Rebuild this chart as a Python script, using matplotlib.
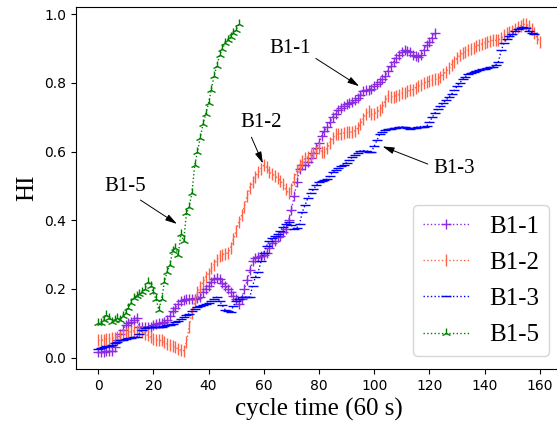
import numpy as np
import matplotlib
matplotlib.use('Agg')
import matplotlib.pyplot as plt

# --- Данные ---
b11 = [0.015, 0.015, 0.015, 0.018, 0.018, 0.02, 0.03, 0.05, 0.07, 0.08,
       0.095, 0.10, 0.105, 0.11, 0.115, 0.09, 0.088, 0.088, 0.09, 0.09,
       0.095, 0.098, 0.10, 0.10, 0.105, 0.11, 0.12, 0.135, 0.145, 0.155,
       0.165, 0.168, 0.17, 0.17, 0.172, 0.172, 0.175, 0.178, 0.19, 0.20,
       0.21, 0.22, 0.228, 0.232, 0.228, 0.218, 0.21, 0.20, 0.19, 0.18,
       0.17, 0.155, 0.17, 0.20, 0.225, 0.255, 0.28, 0.29, 0.292, 0.295,
       0.30, 0.305, 0.32, 0.335, 0.34, 0.35, 0.355, 0.365, 0.375, 0.40,
       0.43, 0.47, 0.51, 0.55, 0.56, 0.562, 0.57, 0.58, 0.595, 0.61,
       0.625, 0.645, 0.66, 0.672, 0.685, 0.70, 0.71, 0.72, 0.728, 0.733,
       0.738, 0.742, 0.745, 0.75, 0.755, 0.765, 0.775, 0.778, 0.78, 0.783,
       0.79, 0.797, 0.803, 0.81, 0.82, 0.835, 0.848, 0.86, 0.872, 0.88,
       0.89, 0.895, 0.893, 0.89, 0.882, 0.878, 0.875, 0.88, 0.895, 0.91,
       0.92, 0.932, 0.945]

b12 = [0.05, 0.05, 0.052, 0.055, 0.055, 0.057, 0.058, 0.06, 0.06, 0.065,
       0.07, 0.073, 0.076, 0.078, 0.079, 0.078, 0.075, 0.07, 0.065, 0.06,
       0.055, 0.052, 0.05, 0.05, 0.045, 0.04, 0.037, 0.033, 0.03, 0.025,
       0.022, 0.02, 0.045, 0.09, 0.13, 0.165, 0.19, 0.205, 0.22, 0.235,
       0.245, 0.26, 0.27, 0.285, 0.295, 0.30, 0.302, 0.305, 0.32, 0.345,
       0.37, 0.395, 0.415, 0.44, 0.47, 0.495, 0.51, 0.525, 0.54, 0.55,
       0.56, 0.555, 0.54, 0.535, 0.53, 0.522, 0.515, 0.505, 0.49, 0.478,
       0.49, 0.52, 0.545, 0.56, 0.572, 0.58, 0.585, 0.59, 0.595, 0.60,
       0.61, 0.60, 0.598, 0.61, 0.625, 0.64, 0.65, 0.652, 0.652, 0.654,
       0.656, 0.656, 0.657, 0.66, 0.668, 0.68, 0.695, 0.71, 0.718, 0.708,
       0.71, 0.715, 0.722, 0.73, 0.748, 0.762, 0.76, 0.76, 0.763, 0.766,
       0.77, 0.772, 0.775, 0.778, 0.78, 0.786, 0.79, 0.795, 0.80, 0.802,
       0.805, 0.808, 0.81, 0.812, 0.818, 0.825, 0.833, 0.842, 0.852, 0.862,
       0.872, 0.88, 0.886, 0.89, 0.895, 0.90, 0.903, 0.907, 0.91, 0.913,
       0.916, 0.919, 0.922, 0.924, 0.924, 0.925, 0.93, 0.938, 0.945, 0.948,
       0.952, 0.957, 0.962, 0.966, 0.97, 0.971, 0.966, 0.958, 0.945, 0.932,
       0.918]

b13 = [0.025, 0.027, 0.03, 0.033, 0.035, 0.038, 0.042, 0.046, 0.05, 0.052,
       0.054, 0.056, 0.058, 0.059, 0.06, 0.07, 0.08, 0.087, 0.088, 0.088,
       0.088, 0.088, 0.089, 0.09, 0.092, 0.094, 0.096, 0.098, 0.103, 0.108,
       0.113, 0.118, 0.123, 0.128, 0.135, 0.143, 0.148, 0.15, 0.152, 0.156,
       0.16, 0.165, 0.17, 0.176, 0.165, 0.152, 0.14, 0.135, 0.133, 0.15,
       0.165, 0.172, 0.176, 0.176, 0.176, 0.177, 0.21, 0.235, 0.25, 0.28,
       0.305, 0.325, 0.34, 0.348, 0.354, 0.36, 0.37, 0.38, 0.388, 0.395,
       0.385, 0.376, 0.378, 0.39, 0.425, 0.445, 0.465, 0.478, 0.49, 0.502,
       0.51, 0.514, 0.516, 0.52, 0.53, 0.54, 0.547, 0.553, 0.558, 0.562,
       0.568, 0.575, 0.583, 0.59, 0.597, 0.602, 0.603, 0.602, 0.60, 0.60,
       0.615, 0.633, 0.65, 0.658, 0.662, 0.665, 0.667, 0.668, 0.67, 0.671,
       0.672, 0.671, 0.669, 0.667, 0.668, 0.67, 0.672, 0.673, 0.672, 0.674,
       0.685, 0.70, 0.712, 0.724, 0.733, 0.742, 0.75, 0.758, 0.767, 0.778,
       0.79, 0.80, 0.81, 0.818, 0.826, 0.83, 0.833, 0.835, 0.837, 0.839,
       0.841, 0.843, 0.845, 0.847, 0.852, 0.862, 0.895, 0.915, 0.928, 0.936,
       0.943, 0.95, 0.956, 0.96, 0.963, 0.96, 0.952, 0.946, 0.942]

b15 = [0.10, 0.10, 0.11, 0.125, 0.115, 0.105, 0.11, 0.115, 0.11, 0.12,
       0.13, 0.145, 0.16, 0.175, 0.18, 0.185, 0.19, 0.20, 0.22, 0.21,
       0.19, 0.17, 0.14, 0.17, 0.22, 0.25, 0.27, 0.31, 0.32, 0.30,
       0.36, 0.34, 0.42, 0.44, 0.48, 0.56, 0.60, 0.64, 0.68, 0.71,
       0.74, 0.78, 0.82, 0.85, 0.88, 0.90, 0.915, 0.925, 0.935, 0.945,
       0.955, 0.97]

labels = ['B1-1', 'B1-2', 'B1-3', 'B1-5']

SERIF = 'Liberation Serif'

fig = plt.figure(figsize=(5.57, 4.23), dpi=100)
ax = fig.add_axes([0.1364, 0.1277, 0.8725, 0.8558])

ax.plot(np.arange(len(b11)), b11, ':', color='blueviolet', marker='+', ms=7, lw=1, label=labels[0])
ax.plot(np.arange(len(b12)), b12, ':', color='tomato', marker='|', ms=8, lw=1, label=labels[1])
ax.plot(np.arange(len(b13)), b13, ':', color='blue', marker='_', ms=7, lw=1, label=labels[2])
ax.plot(np.arange(len(b15)), b15, ':', color='green', marker='2', ms=7, lw=1, label=labels[3])

# --- Подписи кривых ---
arr = dict(arrowstyle='-|>,head_length=0.7,head_width=0.2', color='black', lw=0.7, mutation_scale=10)
ax.annotate('B1-1', xy=(95.4, 0.786), xytext=(69.5, 0.90), ha='center', va='center',
            fontsize=15, family=SERIF, arrowprops=dict(arr, relpos=(1.0, 0.15)))
ax.annotate('B1-2', xy=(60.1, 0.558), xytext=(59.2, 0.685), ha='center', va='center',
            fontsize=15, family=SERIF, arrowprops=dict(arr, relpos=(0.2, 0.0)))
ax.annotate('B1-3', xy=(102.1, 0.618), xytext=(128.9, 0.552), ha='center', va='center',
            fontsize=15, family=SERIF, arrowprops=dict(arr, relpos=(0.0, 0.6)))
ax.annotate('B1-5', xy=(29.4, 0.385), xytext=(9.95, 0.499), ha='center', va='center',
            fontsize=15, family=SERIF, arrowprops=dict(arr, relpos=(0.7, 0.0)))

ax.set_xlim(-8, 168)
ax.set_ylim(-0.033, 1.021)
ax.set_xticks(np.arange(0, 161, 20))
ax.set_yticks([0.0, 0.2, 0.4, 0.6, 0.8, 1.0])
ax.set_xlabel('cycle time (60 s)', fontsize=18, family=SERIF)
ax.set_ylabel('HI', fontsize=18, family=SERIF)
ax.legend(loc='lower right', prop={'family': SERIF, 'size': 18}, labelspacing=0.55,
          handlelength=1.85)

plt.savefig('out.png', dpi=100)
plt.close()
